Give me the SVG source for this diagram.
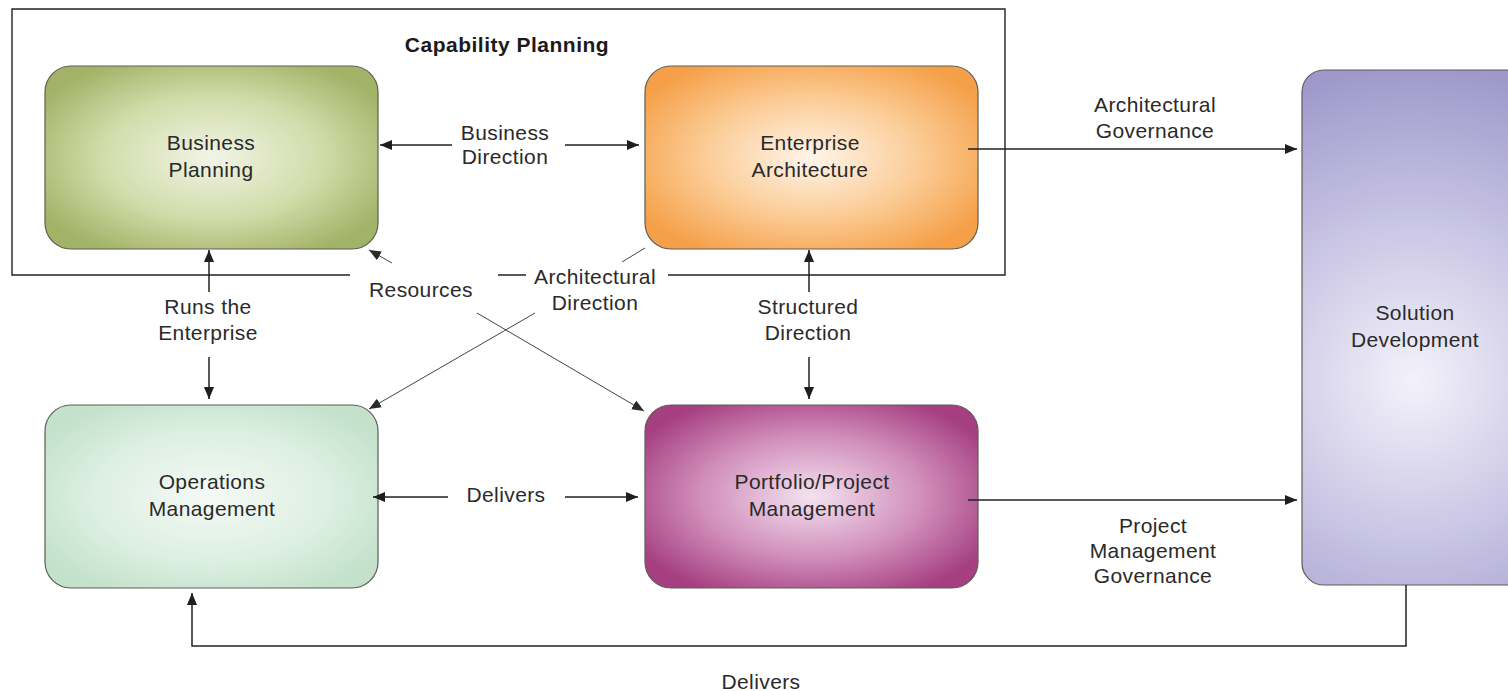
<svg xmlns="http://www.w3.org/2000/svg" width="1508" height="691" viewBox="0 0 1508 691">
<defs>
<radialGradient id="gGreen" cx="50%" cy="50%" r="60%">
<stop offset="0" stop-color="#f1f4e6"/><stop offset="0.55" stop-color="#d2dcaa"/><stop offset="1" stop-color="#a2b266"/>
</radialGradient>
<radialGradient id="gOrange" cx="50%" cy="50%" r="60%">
<stop offset="0" stop-color="#fff5ea"/><stop offset="0.55" stop-color="#fbcb94"/><stop offset="1" stop-color="#f5a048"/>
</radialGradient>
<radialGradient id="gMint" cx="50%" cy="50%" r="60%">
<stop offset="0" stop-color="#f5faf6"/><stop offset="0.6" stop-color="#dcefe1"/><stop offset="1" stop-color="#c3e1cb"/>
</radialGradient>
<radialGradient id="gPlum" cx="50%" cy="50%" r="60%">
<stop offset="0" stop-color="#f4e2ef"/><stop offset="0.55" stop-color="#d18fbc"/><stop offset="1" stop-color="#a53f80"/>
</radialGradient>
<radialGradient id="gViolet" cx="1414" cy="380" r="320" gradientUnits="userSpaceOnUse">
<stop offset="0" stop-color="#f3f2fa"/><stop offset="0.5" stop-color="#c9c5e4"/><stop offset="1" stop-color="#9d97ca"/>
</radialGradient>
<marker id="ah" viewBox="0 0 10 10" refX="10" refY="5" markerWidth="12" markerHeight="12" markerUnits="userSpaceOnUse" orient="auto-start-reverse">
<path d="M0,0.8 L10,5 L0,9.2 z" fill="#1e1e1e"/>
</marker>
<marker id="ahs" viewBox="0 0 10 10" refX="10" refY="5" markerWidth="12" markerHeight="12" markerUnits="userSpaceOnUse" orient="auto-start-reverse">
<path d="M0,0.8 L10,5 L0,9.2 z" fill="#2a2a2a"/>
</marker>
</defs>
<style>
.node{stroke:#5e5e55;stroke-width:1.2}
.t{font-family:"Liberation Sans",Arial,sans-serif;font-size:21px;letter-spacing:0.4px;fill:#2a2a2a;text-anchor:middle}
.tb{font-family:"Liberation Sans",Arial,sans-serif;font-size:21px;letter-spacing:0.5px;font-weight:bold;fill:#1a1a1a;text-anchor:middle}
.c{fill:none;stroke:#222;stroke-width:1.5}
.cd{fill:none;stroke:#444;stroke-width:1}
.frame{fill:none;stroke:#222;stroke-width:1.4}
</style>
<rect width="1508" height="691" fill="#ffffff"/>

<g id="capability-planning">
<path class="frame" d="M350,275 L12,275 L12,9 L1005,9 L1005,275 L668,275 M498,275 L526,275"/>
<text class="tb" x="507" y="52">Capability Planning</text>
</g>

<g id="business-planning">
<rect class="node" x="45" y="66" width="333" height="183" rx="26" fill="url(#gGreen)"/>
<text class="t" x="211" y="150">Business</text>
<text class="t" x="211" y="177">Planning</text>
</g>

<g id="enterprise-architecture">
<rect class="node" x="645" y="66" width="333" height="183" rx="26" fill="url(#gOrange)"/>
<text class="t" x="810" y="150">Enterprise</text>
<text class="t" x="810" y="177">Architecture</text>
</g>

<g id="operations-management">
<rect class="node" x="45" y="405" width="333" height="183" rx="26" fill="url(#gMint)"/>
<text class="t" x="212" y="489">Operations</text>
<text class="t" x="212" y="516">Management</text>
</g>

<g id="portfolio-project-management">
<rect class="node" x="645" y="405" width="333" height="183" rx="26" fill="url(#gPlum)"/>
<text class="t" x="812" y="489">Portfolio/Project</text>
<text class="t" x="812" y="516">Management</text>
</g>

<g id="solution-development">
<rect class="node" x="1302" y="70" width="230" height="515" rx="22" fill="url(#gViolet)"/>
<text class="t" x="1415" y="320">Solution</text>
<text class="t" x="1415" y="347">Development</text>
</g>

<g id="connectors">
<line class="c" x1="452" y1="145" x2="380" y2="145" marker-end="url(#ah)"/>
<line class="c" x1="565" y1="145" x2="639" y2="145" marker-end="url(#ah)"/>
<line class="c" x1="968" y1="149" x2="1297" y2="149" marker-end="url(#ah)"/>
<line class="c" x1="209" y1="292" x2="209" y2="250" marker-end="url(#ah)"/>
<line class="c" x1="209" y1="357" x2="209" y2="399" marker-end="url(#ah)"/>
<line class="c" x1="809" y1="292" x2="809" y2="250" marker-end="url(#ah)"/>
<line class="c" x1="809" y1="357" x2="809" y2="399" marker-end="url(#ah)"/>
<line class="c" x1="448" y1="497" x2="373" y2="497" marker-end="url(#ah)"/>
<line class="c" x1="565" y1="497" x2="638" y2="497" marker-end="url(#ah)"/>
<line class="c" x1="968" y1="500" x2="1297" y2="500" marker-end="url(#ah)"/>
<path class="c" d="M1406,585 L1406,646 L192,646 L192,593" marker-end="url(#ah)"/>
<line class="cd" x1="392" y1="263" x2="369" y2="250" marker-end="url(#ahs)"/>
<line class="cd" x1="477" y1="313" x2="644" y2="411" marker-end="url(#ahs)"/>
<line class="cd" x1="645" y1="248" x2="622" y2="262"/>
<line class="cd" x1="535" y1="313" x2="369" y2="409" marker-end="url(#ahs)"/>

<text class="t" x="505" y="140">Business</text>
<text class="t" x="505" y="164">Direction</text>
<text class="t" x="1155" y="112">Architectural</text>
<text class="t" x="1155" y="138">Governance</text>
<text class="t" x="208" y="314">Runs the</text>
<text class="t" x="208" y="340">Enterprise</text>
<text class="t" x="808" y="314">Structured</text>
<text class="t" x="808" y="340">Direction</text>
<text class="t" x="421" y="297">Resources</text>
<text class="t" x="595" y="284">Architectural</text>
<text class="t" x="595" y="310">Direction</text>
<text class="t" x="506" y="502">Delivers</text>
<text class="t" x="1153" y="533">Project</text>
<text class="t" x="1153" y="558">Management</text>
<text class="t" x="1153" y="583">Governance</text>
<text class="t" x="761" y="689">Delivers</text>
</g>
</svg>
